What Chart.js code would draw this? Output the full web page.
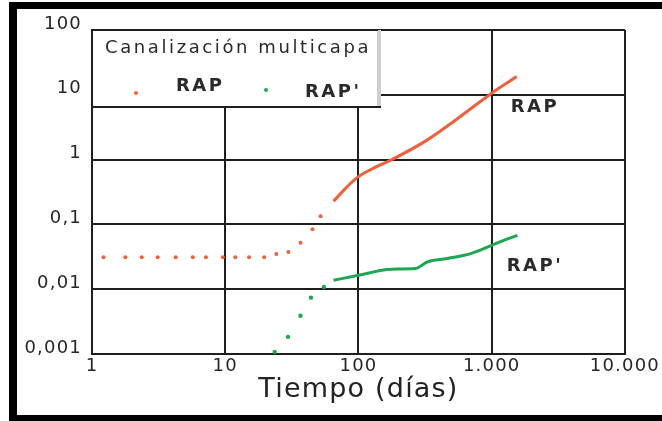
<!DOCTYPE html>
<html><head><meta charset="utf-8">
<script src="https://cdn.jsdelivr.net/npm/chart.js@4/dist/chart.umd.min.js"></script>
<style>html,body{margin:0;padding:0;background:#fff;}#wrap{width:662px;height:421px;position:relative;}</style>
</head><body><div id="wrap"><canvas id="c"></canvas></div>
<script>
const xTickValues = [1, 10, 100, 1000, 10000];
const xTickLabels = ['1', '10', '100', '1.000', '10.000'];
const yTickValues = [0.001, 0.01, 0.1, 1, 10, 100];
const yTickLabels = ['0,001', '0,01', '0,1', '1', '10', '100'];
const seriesNames = ['RAP', "RAP'"];
const legendTitle = 'Canalización multicapa';
const axisTitle = 'Tiempo (días)';

// RAP: separate early points, then dense (line-like) part
const rapDotsX = [1.22, 1.78, 2.36, 3.11, 4.25, 5.71, 7.16, 9.6, 11.9, 15.1, 19.6, 24.2, 29.8, 36.7, 45.2, 52];
const rapDotsY = [0.031, 0.031, 0.031, 0.031, 0.031, 0.031, 0.031, 0.031, 0.031, 0.031, 0.031, 0.035, 0.0375, 0.052, 0.084, 0.134];
const rapTrendX = [65, 79, 97, 130, 178, 316, 562, 1000, 1542];
const rapTrendY = [0.228, 0.35, 0.523, 0.74, 1.0, 1.91, 4.38, 10.6, 19.1];

// RAP': separate early points, then dense part
const rappDotsX = [23.5, 29.6, 36.7, 44, 55];
const rappDotsY = [0.00108, 0.00184, 0.0039, 0.0074, 0.0108];
const rappTrendX = [65, 100, 164, 200, 267, 328, 464, 695, 1000, 1300, 1560];
const rappTrendY = [0.0137, 0.0164, 0.0201, 0.0205, 0.0208, 0.0263, 0.0297, 0.0354, 0.0475, 0.0594, 0.0678];

const ORANGE = '#f2603a';
const GREEN = '#1fa652';
const INK = '#1e1e1e';
const FONT = 'DejaVu Sans';

const pts = (xs, ys) => xs.map((x, i) => ({x, y: ys[i]}));

const decor = {
  id: 'decor',
  beforeLayout(chart) { chart.ctx.letterSpacing = '1.2px'; },
  beforeDraw(chart) {
    const ctx = chart.ctx, W = chart.width, H = chart.height;
    ctx.save();
    ctx.fillStyle = '#fff';
    ctx.fillRect(0, 0, W, H);
    ctx.fillStyle = '#000';
    ctx.fillRect(9, 2, W - 9, 7);
    ctx.fillRect(9, 2, 8, H - 2);
    ctx.fillRect(9, 415, W - 9, H - 415);
    ctx.restore();
    ctx.letterSpacing = '1.2px';
  },
  afterDatasetsDraw(chart) {
    const ctx = chart.ctx, a = chart.chartArea;
    const xs = chart.scales.x, ys = chart.scales.y;
    ctx.save();
    // legend box
    const bx = a.left, by = a.top, bw = 289, bh = 77;
    ctx.fillStyle = '#fff';
    ctx.fillRect(bx, by, bw, bh);
    ctx.fillStyle = '#cfcfcf';
    ctx.fillRect(bx + bw - 4, by, 4, bh);
    ctx.strokeStyle = INK; ctx.lineWidth = 2;
    ctx.beginPath();
    ctx.moveTo(bx + bw - 3, by); ctx.lineTo(bx, by); ctx.lineTo(bx, by + bh); ctx.lineTo(bx + bw, by + bh);
    ctx.stroke();
    ctx.fillStyle = '#2a2a2a';
    ctx.textBaseline = 'middle'; ctx.textAlign = 'left';
    ctx.font = '18px "' + FONT + '"';
    ctx.letterSpacing = '2.6px';
    ctx.fillText(legendTitle, bx + 13, by + 18);
    // items
    ctx.font = 'bold 18px "' + FONT + '"';
    ctx.letterSpacing = '2.5px';
    ctx.fillStyle = ORANGE;
    ctx.beginPath(); ctx.arc(bx + 44, by + 63, 2, 0, Math.PI * 2); ctx.fill();
    ctx.fillStyle = '#2a2a2a';
    ctx.fillText(seriesNames[0], bx + 84, by + 56);
    ctx.fillStyle = GREEN;
    ctx.beginPath(); ctx.arc(bx + 174, by + 60, 2, 0, Math.PI * 2); ctx.fill();
    ctx.fillStyle = '#2a2a2a';
    ctx.fillText(seriesNames[1], bx + 213, by + 62);
    // annotations next to the curves
    ctx.fillText(seriesNames[0], xs.getPixelForValue(1000) + 19, ys.getPixelForValue(10) + 13);
    ctx.fillText(seriesNames[1], xs.getPixelForValue(1000) + 15, ys.getPixelForValue(0.01) - 23);
    ctx.restore();
    ctx.letterSpacing = '1.2px';
  }
};

new Chart(document.getElementById('c'), {
  type: 'scatter',
  data: {
    datasets: [
      {label: seriesNames[0], data: pts(rapDotsX, rapDotsY), backgroundColor: ORANGE, borderColor: ORANGE, pointRadius: 2, pointBorderWidth: 0, showLine: false},
      {label: seriesNames[1], data: pts(rappDotsX, rappDotsY), backgroundColor: GREEN, borderColor: GREEN, pointRadius: 2.2, pointBorderWidth: 0, showLine: false},
      {label: seriesNames[0] + ' (denso)', data: pts(rapTrendX, rapTrendY), borderColor: ORANGE, backgroundColor: ORANGE, borderWidth: 3, pointRadius: 0, showLine: true, cubicInterpolationMode: 'monotone'},
      {label: seriesNames[1] + ' (denso)', data: pts(rappTrendX, rappTrendY), borderColor: GREEN, backgroundColor: GREEN, borderWidth: 3, pointRadius: 0, showLine: true, cubicInterpolationMode: 'monotone'}
    ]
  },
  options: {
    responsive: true,
    maintainAspectRatio: false,
    animation: false,
    layout: {padding: {left: 12, right: 36, top: 30, bottom: 15}},
    plugins: {legend: {display: false}, tooltip: {enabled: false}},
    scales: {
      x: {
        type: 'logarithmic', min: 1, max: 10000,
        afterBuildTicks: s => { s.ticks = xTickValues.map(v => ({value: v})); },
        afterFit: s => { s.height = 52; },
        ticks: {
          callback: v => xTickLabels[xTickValues.indexOf(v)],
          autoSkip: false, maxRotation: 0, padding: 2,
          font: {family: FONT, size: 18}, color: '#262626'
        },
        grid: {color: INK, lineWidth: 2, drawTicks: false},
        border: {display: true, color: INK, width: 2},
        title: {display: true, text: axisTitle, font: {family: FONT, size: 27}, color: '#222', padding: 0}
      },
      y: {
        type: 'logarithmic', min: 0.001, max: 100,
        afterBuildTicks: s => { s.ticks = yTickValues.map(v => ({value: v})); },
        afterFit: s => { s.width = 80; },
        ticks: {
          callback: v => yTickLabels[yTickValues.findIndex(t => Math.abs(t - v) / t < 1e-6)],
          autoSkip: false, padding: 10, labelOffset: -6,
          font: {family: FONT, size: 18}, color: '#262626'
        },
        grid: {color: INK, lineWidth: 2, drawTicks: false},
        border: {display: true, color: INK, width: 2}
      }
    }
  },
  plugins: [decor]
});
</script>
</body></html>
